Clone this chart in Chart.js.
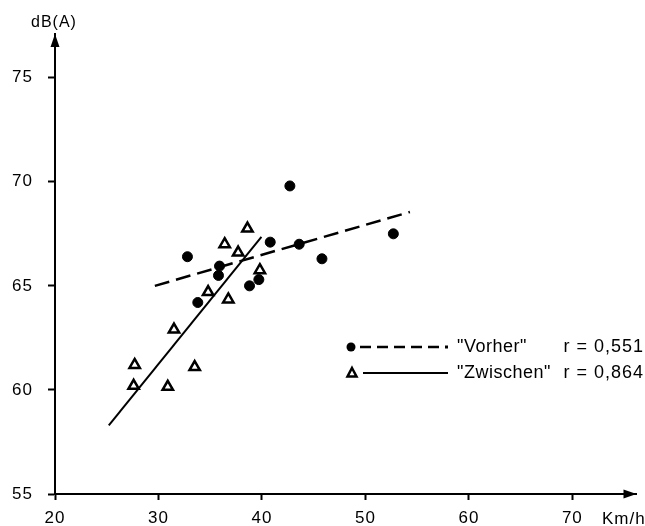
<!DOCTYPE html>
<html>
<head>
<meta charset="utf-8">
<script src="https://cdn.jsdelivr.net/npm/chart.js@4"></script>
<style>
html,body{margin:0;padding:0;background:#fff;}
#wrap{width:645px;height:526px;}
</style>
</head>
<body>
<div id="wrap"><canvas id="c" width="645" height="526"></canvas></div>
<script>
// ---- data ----
const xTicks = [20, 30, 40, 50, 60, 70];
const yTicks = [55, 60, 65, 70, 75];
const xTitle = 'Km/h';
const yTitle = 'dB(A)';

const vorherX = [32.8, 33.8, 35.9, 35.8, 38.8, 39.7, 40.8, 42.7, 43.6, 45.8, 52.7];
const vorherY = [66.4, 64.2, 65.95, 65.5, 65.0, 65.3, 67.1, 69.8, 67.0, 66.3, 67.5];
const zwischenX = [27.6, 27.7, 30.9, 31.5, 33.5, 34.8, 36.4, 36.75, 37.7, 38.6, 39.8];
const zwischenY = [60.2, 61.2, 60.15, 62.9, 61.1, 64.7, 67.0, 64.35, 66.6, 67.75, 65.75];

const vorherFitX = [29.65, 54.3];
const vorherFitY = [65.0, 68.55];
const zwischenFitX = [25.2, 39.95];
const zwischenFitY = [58.3, 67.35];

const legendNames = ['"Vorher"', '"Zwischen"'];
const legendR = ['r = 0,551', 'r = 0,864'];

const toPts = (xs, ys) => xs.map((x, i) => ({x: x, y: ys[i]}));

const FONT = '"Liberation Sans", Arial, Helvetica, sans-serif';

const spacing = {
  id: 'spacing',
  beforeDraw(chart) { chart.ctx.letterSpacing = '1px'; }
};

const decor = {
  id: 'decor',
  afterDraw(chart) {
    const ctx = chart.ctx;
    const xs = chart.scales.x, ys = chart.scales.y;
    ctx.save();
    ctx.letterSpacing = '1px';
    ctx.fillStyle = '#000';
    ctx.strokeStyle = '#000';
    // arrow heads
    const L = xs.getPixelForValue(20), B = ys.getPixelForValue(55);
    const R = xs.getPixelForValue(xs.max), T = ys.getPixelForValue(ys.max);
    ctx.beginPath();
    ctx.moveTo(R, B); ctx.lineTo(R - 13, B - 4.5); ctx.lineTo(R - 13, B + 4.5); ctx.closePath(); ctx.fill();
    ctx.beginPath();
    ctx.moveTo(L, T); ctx.lineTo(L - 4.5, T + 13); ctx.lineTo(L + 4.5, T + 13); ctx.closePath(); ctx.fill();
    // axis titles
    ctx.font = '16px ' + FONT;
    ctx.textBaseline = 'middle';
    ctx.textAlign = 'center';
    ctx.fillText(yTitle, L - 1, T - 11);
    ctx.textAlign = 'left';
    ctx.font = '17px ' + FONT;
    ctx.fillText(xTitle, 602, B + 25);

    // legend
    const rows = [347, 373];
    ctx.beginPath(); ctx.arc(351, rows[0], 4.5, 0, Math.PI * 2); ctx.fill();
    ctx.lineWidth = 2.5;
    ctx.setLineDash([11, 6]);
    ctx.beginPath(); ctx.moveTo(360, rows[0]); ctx.lineTo(442, rows[0]); ctx.stroke();
    ctx.setLineDash([]);
    ctx.fillRect(445, rows[0] - 1.5, 3, 3);
    ctx.lineWidth = 2.5;
    ctx.beginPath();
    ctx.moveTo(352, rows[1] - 5); ctx.lineTo(356.5, rows[1] + 3.5); ctx.lineTo(347.5, rows[1] + 3.5); ctx.closePath(); ctx.stroke();
    ctx.lineWidth = 2;
    ctx.beginPath(); ctx.moveTo(363, rows[1]); ctx.lineTo(448, rows[1]); ctx.stroke();
    ctx.font = '18px ' + FONT;
    ctx.letterSpacing = '0.5px';
    ctx.textAlign = 'left';
    ctx.fillText(legendNames[0], 457, rows[0]);
    ctx.fillText(legendNames[1], 457, rows[1]);
    ctx.letterSpacing = '1px';
    ctx.textAlign = 'right';
    ctx.fillText(legendR[0], 644, rows[0]);
    ctx.fillText(legendR[1], 644, rows[1]);
    ctx.restore();
  }
};

new Chart(document.getElementById('c'), {
  type: 'scatter',
  data: {
    datasets: [
      {
        label: 'Vorher',
        data: toPts(vorherX, vorherY),
        pointStyle: 'circle',
        pointRadius: 5,
        backgroundColor: '#000',
        borderColor: '#000',
        borderWidth: 1
      },
      {
        label: 'Zwischen',
        data: toPts(zwischenX, zwischenY),
        pointStyle: 'triangle',
        pointRadius: 6,
        backgroundColor: '#fff',
        borderColor: '#000',
        borderWidth: 2.5
      },
      {
        label: 'Vorher fit',
        data: toPts(vorherFitX, vorherFitY),
        showLine: true,
        pointRadius: 0,
        borderColor: '#000',
        borderWidth: 2.5,
        borderDash: [15, 7]
      },
      {
        label: 'Zwischen fit',
        data: toPts(zwischenFitX, zwischenFitY),
        showLine: true,
        pointRadius: 0,
        borderColor: '#000',
        borderWidth: 2
      }
    ]
  },
  options: {
    responsive: false,
    animation: false,
    devicePixelRatio: 1,
    layout: {padding: {top: 34, right: 4, left: 0, bottom: 0}},
    plugins: {legend: {display: false}, tooltip: {enabled: false}},
    scales: {
      x: {
        type: 'linear',
        min: 20,
        max: 76.2,
        afterBuildTicks: s => { s.ticks = xTicks.map(v => ({value: v})); },
        afterFit: s => { s.height = 32; },
        border: {display: true, color: '#000', width: 2},
        grid: {display: true, drawOnChartArea: false, drawTicks: true, tickLength: 6, tickWidth: 2, tickColor: '#000'},
        ticks: {color: '#000', font: {family: FONT, size: 17}, padding: 8, maxRotation: 0, autoSkip: false}
      },
      y: {
        type: 'linear',
        min: 55,
        max: 77.1,
        afterBuildTicks: s => { s.ticks = yTicks.map(v => ({value: v})); },
        afterFit: s => { s.width = 55; },
        border: {display: true, color: '#000', width: 2},
        grid: {display: true, drawOnChartArea: false, drawTicks: true, tickLength: 7, tickWidth: 2, tickColor: '#000'},
        ticks: {color: '#000', font: {family: FONT, size: 17}, padding: 15, autoSkip: false}
      }
    }
  },
  plugins: [spacing, decor]
});
</script>
</body>
</html>
